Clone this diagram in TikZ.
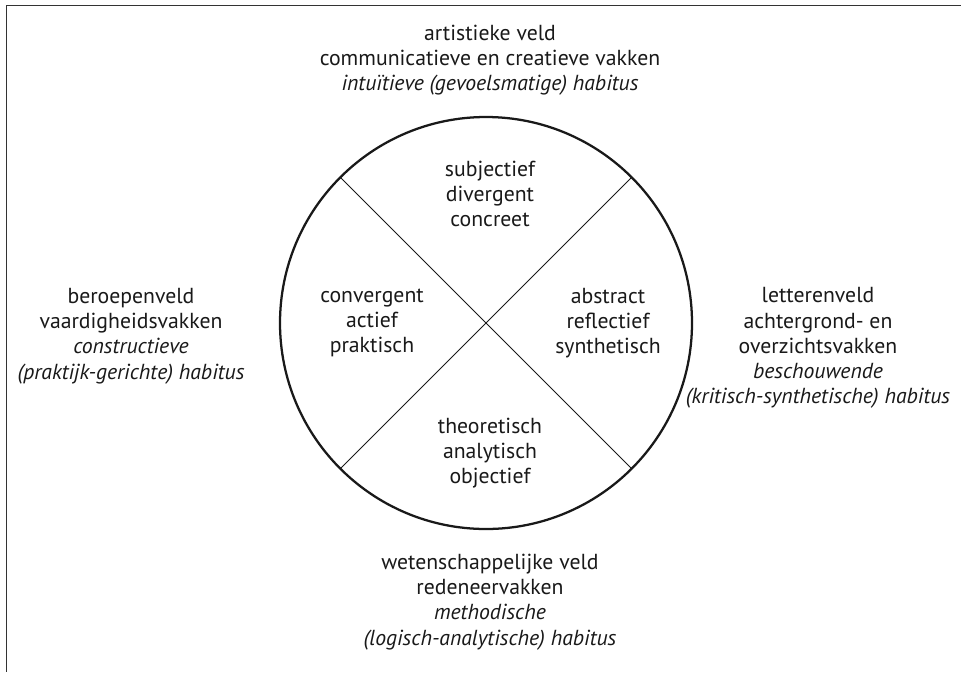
\documentclass[tikz,border=0pt]{standalone}
\usepackage{fontspec}
\setmainfont{PT Sans}
\begin{document}
\begin{tikzpicture}[x=0.75pt,y=-0.75pt,
  lbl/.style={align=center, font=\fontsize{16.3}{18.9}\selectfont, inner sep=0pt, text=black!90},
  ring/.style={circle, draw=black!90, line width=1.7pt, minimum size=309pt, inner sep=0pt, outer sep=0pt},
  divider/.style={draw=black!90, line width=0.6pt},
  frameline/.style={draw=black!80, line width=1.1pt}]
\useasboundingbox (0,0) rectangle (961,672);
\coordinate (ftr) at (961,5.5);
\coordinate (fc) at (6.5,5.5);
\coordinate (fbl) at (6.5,672);
\draw[frameline] (ftr) -- (fc) -- (fbl);
\node[ring] (c) at (486,323) {};
\draw[divider] (c.135) -- (c.-45);
\draw[divider] (c.45) -- (c.-135);
\node[lbl] (top) at (490,60) {artistieke veld\\communicatieve en creatieve vakken\\\itshape intuïtieve (gevoelsmatige) habitus};
\node[lbl] (qtop) at (490,194) {subjectief\\divergent\\concreet};
\node[lbl] (qleft) at (372,323) {convergent\\actief\\praktisch};
\node[lbl] (qright) at (608,323) {abstract\\reflectief\\synthetisch};
\node[lbl] (qbot) at (490,453) {theoretisch\\analytisch\\objectief};
\node[lbl] (left) at (131,336) {beroepenveld\\vaardigheidsvakken\\\itshape constructieve\\\itshape (praktijk-gerichte) habitus};
\node[lbl] (right) at (818,348) {letterenveld\\achtergrond- en\\overzichtsvakken\\\itshape beschouwende\\\itshape (kritisch-synthetische) habitus};
\node[lbl] (bot) at (490,602) {wetenschappelijke veld\\redeneervakken\\\itshape methodische\\\itshape (logisch-analytische) habitus};
\end{tikzpicture}
\end{document}
